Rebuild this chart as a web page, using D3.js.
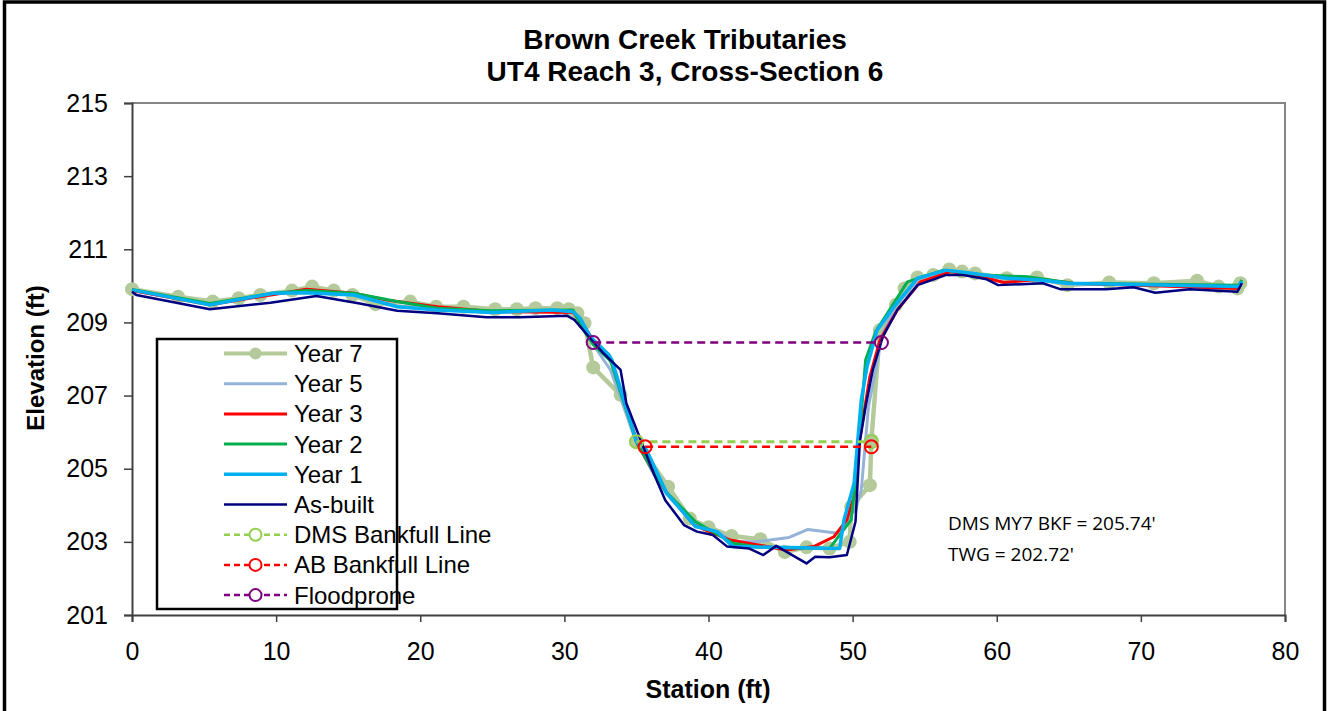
<!DOCTYPE html>
<html>
<head>
<meta charset="utf-8">
<script src="https://cdn.jsdelivr.net/npm/d3@7"></script>
<style>
  html, body { margin: 0; padding: 0; background: #fff; }
  svg { display: block; }
</style>
</head>
<body>
<svg id="chart" width="1330" height="711"></svg>
<script>
// ---------- DATA ----------
const titleLines = ["Brown Creek Tributaries", "UT4 Reach 3, Cross-Section 6"];
const xTicks = [0, 10, 20, 30, 40, 50, 60, 70, 80];
const yTicks = [201, 203, 205, 207, 209, 211, 213, 215];
const seriesNames = ["Year 7", "Year 5", "Year 3", "Year 2", "Year 1", "As-built", "DMS Bankfull Line", "AB Bankfull Line", "Floodprone"];

const year7 = [[0,209.91],[3.2,209.70],[5.6,209.57],[7.4,209.66],[8.9,209.75],[11.1,209.87],[12.5,209.98],[14.0,209.87],[15.3,209.75],[16.9,209.50],[19.3,209.57],[21.1,209.43],[23.0,209.43],[25.2,209.36],[26.7,209.36],[28.0,209.39],[29.5,209.39],[30.3,209.36],[30.9,209.25],[31.4,208.98],[32.0,207.77],[33.9,207.02],[35.0,205.74],[37.2,204.51],[38.7,203.64],[40.0,203.40],[41.6,203.16],[43.6,203.07],[45.3,202.72],[46.8,202.85],[48.4,202.82],[49.8,203.00],[49.9,203.96],[51.2,204.55],[51.3,205.78],[51.9,208.79],[53.0,209.48],[53.6,209.93],[54.5,210.23],[55.6,210.30],[56.7,210.45],[57.6,210.39],[58.5,210.34],[60.7,210.21],[62.8,210.23],[64.9,210.02],[67.8,210.09],[70.9,210.07],[73.9,210.14],[75.4,209.98],[76.7,209.93],[76.9,210.07]];

const year5 = [[0,209.88],[5.4,209.50],[9.8,209.78],[12.1,209.85],[15.4,209.75],[18.4,209.45],[21.2,209.36],[24.9,209.28],[29.2,209.33],[30.6,209.30],[31.2,209.05],[32.0,208.40],[33.2,207.70],[35.0,205.74],[36.2,204.85],[37.1,204.30],[39.1,203.45],[40.6,203.28],[41.7,203.00],[43.3,203.00],[45.6,203.12],[46.9,203.34],[49.1,203.23],[50.3,204.01],[50.6,204.42],[51.1,206.70],[51.6,207.70],[52.0,208.61],[52.9,209.40],[54.5,210.15],[56.5,210.40],[58.4,210.32],[60.7,210.20],[63.0,210.15],[64.9,210.05],[76.8,209.98],[77.0,210.10]];

const year3 = [[0,209.87],[5.4,209.48],[12.1,209.91],[15.4,209.80],[17.7,209.61],[21.2,209.43],[24.9,209.30],[29.2,209.28],[30.6,209.27],[31.2,209.00],[32.0,208.52],[33.3,207.90],[35.1,205.65],[36.2,204.90],[37.1,204.35],[39.0,203.46],[41.5,203.05],[45.4,202.78],[47.3,202.87],[48.7,203.14],[49.6,203.60],[50.1,204.24],[50.4,205.60],[51.2,207.52],[51.9,208.52],[53.1,209.34],[54.7,210.11],[56.8,210.39],[58.9,210.25],[60.5,210.09],[63.0,210.18],[65.3,210.07],[76.8,209.93],[77.0,210.10]];

const year2 = [[0,209.90],[5.4,209.52],[9.8,209.80],[12.1,209.87],[15.4,209.80],[18.4,209.57],[21.2,209.39],[24.9,209.32],[30.6,209.34],[31.4,208.75],[32.0,208.40],[33.2,207.95],[35.0,205.74],[36.2,204.90],[37.1,204.35],[39.1,203.55],[41.7,202.96],[43.6,202.85],[48.4,202.82],[49.9,203.60],[50.3,205.00],[50.9,207.97],[51.6,208.75],[52.7,209.43],[53.8,210.11],[56.3,210.43],[58.9,210.30],[60.7,210.27],[62.1,210.25],[65.3,210.07],[76.8,210.02],[77.0,210.16]];

const year1 = [[0,209.89],[5.4,209.48],[9.8,209.80],[12.1,209.81],[15.4,209.75],[18.4,209.43],[21.2,209.34],[24.9,209.27],[29.2,209.34],[30.6,209.29],[31.1,209.11],[31.8,208.61],[33.1,208.11],[33.3,207.97],[35.0,205.74],[35.7,205.51],[37.1,204.33],[39.1,203.42],[40.6,203.28],[41.7,202.87],[49.1,202.82],[49.4,203.60],[50.1,204.60],[50.6,206.88],[51.0,207.79],[51.7,208.79],[52.8,209.39],[54.5,210.21],[56.5,210.43],[58.4,210.34],[60.7,210.21],[63.0,210.16],[64.9,210.07],[76.8,209.98],[77.0,210.12]];

const asBuilt = [[0,209.84],[0.3,209.75],[5.4,209.36],[9.6,209.54],[12.8,209.72],[15.8,209.52],[18.4,209.32],[21.2,209.25],[24.6,209.14],[26.9,209.14],[30.2,209.18],[30.7,209.07],[31.7,208.61],[32.7,208.16],[33.9,207.70],[34.3,206.79],[35.3,205.78],[36.2,204.87],[37.0,204.14],[38.3,203.46],[39.2,203.28],[40.3,203.19],[41.3,202.87],[42.8,202.82],[43.8,202.64],[44.7,202.89],[46.8,202.41],[47.4,202.59],[48.4,202.58],[49.6,202.64],[50.2,203.55],[50.5,205.74],[50.9,206.70],[51.4,207.70],[52.1,208.61],[53.1,209.34],[54.5,210.02],[56.5,210.30],[57.6,210.30],[59.3,210.18],[60.1,210.02],[63.2,210.07],[64.4,209.91],[67.6,209.91],[69.5,209.96],[71.0,209.81],[73.4,209.91],[75.0,209.87],[76.7,209.84],[77.0,210.07]];

const dmsBankfull = [[35.0,205.74],[51.3,205.74]];
const abBankfull = [[35.6,205.60],[51.3,205.60]];
const floodprone = [[32.0,208.45],[52.0,208.45]];

const annotations = ["DMS MY7 BKF = 205.74'", "TWG = 202.72'"];

// ---------- LAYOUT ----------
const svg = d3.select("#chart");
const M = { left: 132, right: 1285, top: 103, bottom: 615 };
const x = d3.scaleLinear().domain([0, 80]).range([M.left, M.right]);
const y = d3.scaleLinear().domain([201, 215]).range([M.bottom, M.top]);
const FONT = "'Liberation Sans', Arial, sans-serif";

// outer frame
svg.append("rect").attr("x", 4.5).attr("y", 2).attr("width", 1320).attr("height", 730)
  .attr("fill", "none").attr("stroke", "#000").attr("stroke-width", 3.5);

// plot border (top/right gray)
svg.append("path")
  .attr("d", `M${M.left},${M.top}H${M.right}V${M.bottom}`)
  .attr("fill", "none").attr("stroke", "#868686").attr("stroke-width", 2);

// title
svg.selectAll(".title").data(titleLines).join("text")
  .attr("x", 685).attr("y", (d, i) => 49 + i * 32)
  .attr("text-anchor", "middle").attr("font-family", FONT)
  .attr("font-weight", "bold").attr("font-size", 28).text(d => d);

// axes
const xAxis = svg.append("g").attr("transform", `translate(0,${M.bottom})`)
  .call(d3.axisBottom(x).tickValues(xTicks).tickSize(7).tickFormat(d3.format("d")));
xAxis.selectAll(".tick text").attr("dy", null).attr("y", 45);
const yAxis = svg.append("g").attr("transform", `translate(${M.left},0)`)
  .call(d3.axisLeft(y).tickValues(yTicks).tickSize(8).tickPadding(16).tickFormat(d3.format("d")));
[xAxis, yAxis].forEach(g => {
  g.select(".domain").attr("stroke", "#404040").attr("stroke-width", 2);
  g.selectAll(".tick line").attr("stroke", "#404040").attr("stroke-width", 1.5);
  g.selectAll(".tick text").attr("font-family", FONT).attr("font-size", 25).attr("fill", "#000");
});

svg.append("text").attr("x", 708).attr("y", 698).attr("text-anchor", "middle")
  .attr("font-family", FONT).attr("font-weight", "bold").attr("font-size", 25).text("Station (ft)");
svg.append("text").attr("transform", "translate(44,358) rotate(-90)").attr("text-anchor", "middle")
  .attr("font-family", FONT).attr("font-weight", "bold").attr("font-size", 24).text("Elevation (ft)");

// ---------- SERIES ----------
const line = d3.line().x(d => x(d[0])).y(d => y(d[1]));
const styles = [
  { name: seriesNames[0], data: year7, color: "#B5CA9B", width: 4.5 },
  { name: seriesNames[1], data: year5, color: "#95B3D7", width: 3 },
  { name: seriesNames[2], data: year3, color: "#FF0000", width: 3 },
  { name: seriesNames[3], data: year2, color: "#00B050", width: 3 },
  { name: seriesNames[4], data: year1, color: "#00B0F0", width: 3.5 },
  { name: seriesNames[5], data: asBuilt, color: "#000080", width: 2.5 }
];
const plot = svg.append("g");
plot.selectAll(".m7").data(year7).join("circle")
  .attr("cx", d => x(d[0])).attr("cy", d => y(d[1])).attr("r", 7).attr("fill", "#B5CA9B");
styles.forEach(s => {
  plot.append("path").datum(s.data).attr("d", line).attr("fill", "none")
    .attr("stroke", s.color).attr("stroke-width", s.width).attr("stroke-linejoin", "round");
});
const dashed = [
  { data: dmsBankfull, color: "#92D050", width: 3 },
  { data: abBankfull, color: "#FF0000", width: 2.5 },
  { data: floodprone, color: "#7F007F", width: 2.5 }
];
dashed.forEach(s => {
  plot.append("path").datum(s.data).attr("d", line).attr("fill", "none")
    .attr("stroke", s.color).attr("stroke-width", s.width).attr("stroke-dasharray", "8,5");
  plot.selectAll(null).data(s.data).join("circle")
    .attr("cx", d => x(d[0])).attr("cy", d => y(d[1])).attr("r", 6.5)
    .attr("fill", "none").attr("stroke", s.color).attr("stroke-width", 2);
});

// annotation
svg.selectAll(".ann").data(annotations).join("text")
  .attr("x", 948).attr("y", (d, i) => 530 + i * 31)
  .attr("font-family", "'Open Sans', sans-serif").attr("font-size", 19).attr("fill", "#000").text(d => d);

// ---------- LEGEND ----------
const lg = svg.append("g");
lg.append("rect").attr("x", 157).attr("y", 339).attr("width", 240).attr("height", 270)
  .attr("fill", "#fff").attr("stroke", "#000").attr("stroke-width", 2.5);
const legendItems = [
  ...styles.map((s, i) => ({ name: s.name, color: s.color, width: Math.min(s.width, 4), dash: null, marker: i === 0 ? "fill" : null })),
  ...dashed.map((s, i) => ({ name: seriesNames[6 + i], color: s.color, width: 2.5, dash: "6,4", marker: "open" }))
];
legendItems.forEach((it, i) => {
  const cy = 353.5 + i * 30.2;
  lg.append("line").attr("x1", 224).attr("x2", 287).attr("y1", cy).attr("y2", cy)
    .attr("stroke", it.color).attr("stroke-width", it.width).attr("stroke-dasharray", it.dash);
  if (it.marker === "fill") lg.append("circle").attr("cx", 255.5).attr("cy", cy).attr("r", 6).attr("fill", it.color);
  if (it.marker === "open") lg.append("circle").attr("cx", 255.5).attr("cy", cy).attr("r", 6)
    .attr("fill", "#fff").attr("stroke", it.color).attr("stroke-width", 2);
  lg.append("text").attr("x", 294).attr("y", cy + 8.5).attr("font-family", FONT).attr("font-size", 24)
    .attr("fill", "#000").text(it.name);
});
</script>
</body>
</html>
